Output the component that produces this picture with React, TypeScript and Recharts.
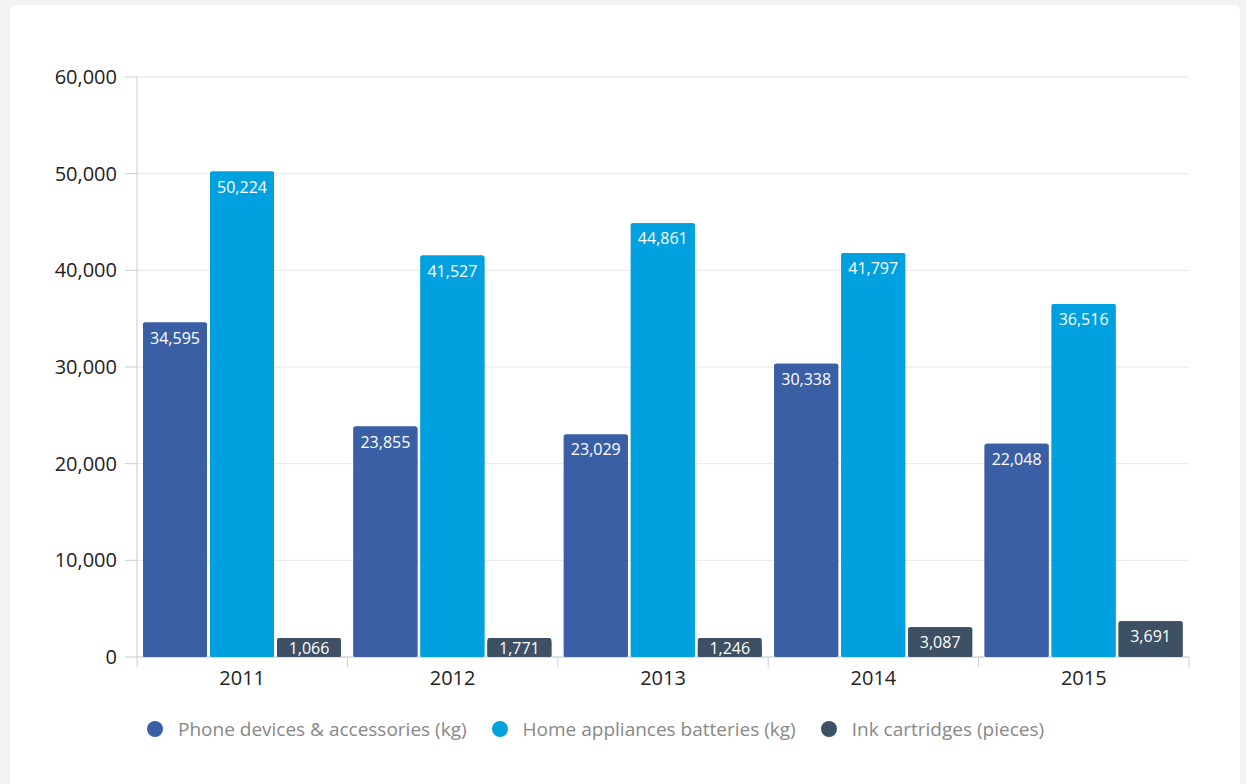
import React from "react";
import {
  BarChart,
  Bar,
  XAxis,
  YAxis,
  CartesianGrid,
  LabelList,
  ReferenceLine
} from "recharts";

const years = ["2011", "2012", "2013", "2014", "2015"];
const phoneDevices = [34595, 23855, 23029, 30338, 22048];
const homeBatteries = [50224, 41527, 44861, 41797, 36516];
const inkCartridges = [1066, 1771, 1246, 3087, 3691];
const yTicks = [0, 10000, 20000, 30000, 40000, 50000, 60000];

const series = [
  { key: "phone", name: "Phone devices & accessories (kg)", color: "#3b5fa5" },
  { key: "home", name: "Home appliances batteries (kg)", color: "#00a1de" },
  { key: "ink", name: "Ink cartridges (pieces)", color: "#3e5064" }
];

const data = years.map((year, i) => ({
  year,
  phone: phoneDevices[i],
  home: homeBatteries[i],
  ink: inkCartridges[i]
}));

const font = "'Open Sans', 'DejaVu Sans', sans-serif";

const fmt = (v: number) => v.toLocaleString("en-US");

function makeLabel(color: string) {
  return (props: any) => {
    const vb = props.viewBox || {};
    const x = props.x ?? vb.x;
    const y = props.y ?? vb.y;
    const width = props.width ?? vb.width;
    const height = props.height ?? vb.height;
    const bottom = y + height;
    const textY = Math.min(y + 15.5, bottom - 9);
    const boxTop = Math.min(y, textY - 10);
    return (
      <g>
        <rect x={x} y={boxTop} width={width} height={bottom - boxTop} rx={2} fill={color} />
        <text
          x={x + width / 2}
          y={textY}
          dy="0.35em"
          textAnchor="middle"
          fill="#ffffff"
          fontSize={16}
          fontFamily={font}
        >
          {fmt(Number(props.value))}
        </text>
      </g>
    );
  };
}

export default function App() {
  return (
    <div style={{ position: "fixed", inset: 0, background: "#f2f2f2", fontFamily: font }}>
      <div
        style={{
          position: "absolute",
          left: 10,
          top: 5,
          width: 1230,
          height: 800,
          background: "#ffffff",
          borderRadius: 6
        }}
      />
      <div style={{ position: "absolute", left: 0, top: 0 }}>
        <BarChart
          width={1246}
          height={784}
          data={data}
          margin={{ top: 77, right: 57, left: 10, bottom: 87 }}
          barSize={64}
          barGap={3}
        >
          <CartesianGrid vertical={false} stroke="#e6e6e6" />
          <XAxis
            dataKey="year"
            height={40}
            tickLine={false}
            tickMargin={8}
            axisLine={{ stroke: "#cccccc" }}
            tick={{ fill: "#222222", fontSize: 20, fontFamily: font }}
          />
          <YAxis
            width={127}
            domain={[0, 60000]}
            ticks={yTicks}
            tickFormatter={fmt}
            tickSize={12}
            tickMargin={8}
            tickLine={{ stroke: "#cccccc" }}
            axisLine={{ stroke: "#cccccc" }}
            tick={{ fill: "#222222", fontSize: 20, fontFamily: font }}
          />
          {years.map((yr) => (
            <ReferenceLine
              key={yr}
              segment={[
                { x: yr, y: 0 },
                { x: yr, y: -1050 }
              ]}
              position="start"
              ifOverflow="visible"
              stroke="#cccccc"
            />
          ))}
          <ReferenceLine
            segment={[
              { x: years[years.length - 1], y: 0 },
              { x: years[years.length - 1], y: -1050 }
            ]}
            position="end"
            ifOverflow="visible"
            stroke="#cccccc"
          />
          {series.map((s) => (
            <Bar
              key={s.key}
              dataKey={s.key}
              name={s.name}
              fill={s.color}
              radius={[2, 2, 0, 0]}
              isAnimationActive={false}
            >
              <LabelList dataKey={s.key} content={makeLabel(s.color)} />
            </Bar>
          ))}
        </BarChart>
      </div>
      <div
        style={{
          position: "absolute",
          left: 147,
          top: 716,
          display: "flex",
          alignItems: "center",
          fontSize: 19,
          color: "#888888",
          whiteSpace: "nowrap"
        }}
      >
        {series.map((s) => (
          <div key={s.key} style={{ display: "flex", alignItems: "center", marginRight: 25 }}>
            <span
              style={{
                display: "inline-block",
                width: 16,
                height: 16,
                borderRadius: 8,
                background: s.color,
                marginRight: 15
              }}
            />
            <span>{s.name}</span>
          </div>
        ))}
      </div>
    </div>
  );
}
